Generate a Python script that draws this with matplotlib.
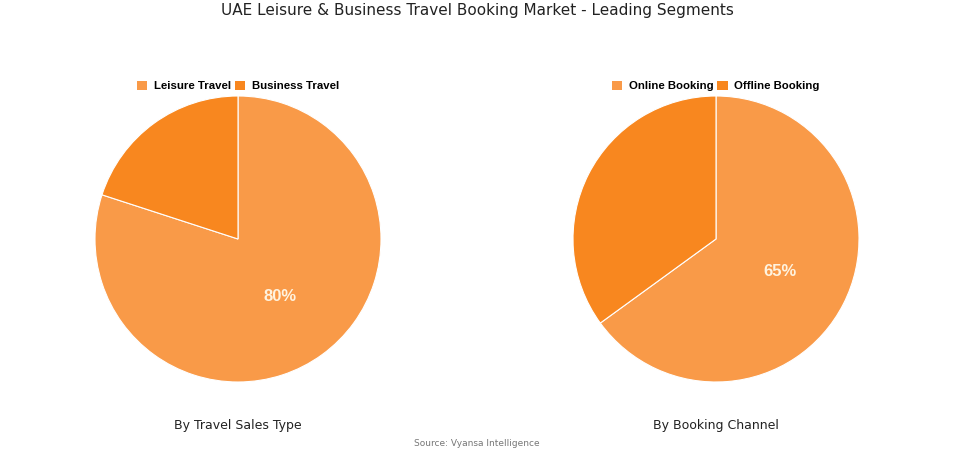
import matplotlib
matplotlib.use('Agg')
import matplotlib.pyplot as plt
from matplotlib.patches import Patch
import numpy as np

W, H = 955, 454

# data
sales_labels = ['Leisure Travel', 'Business Travel']
sales_values = [80, 20]
channel_labels = ['Online Booking', 'Offline Booking']
channel_values = [65, 35]

C_LIGHT = '#F99A48'
C_DARK = '#F8871F'

fig = plt.figure(figsize=(W / 100, H / 100), dpi=100)
fig.patch.set_facecolor('white')

fig.text(0.5, 1 - 11 / H, 'UAE Leisure & Business Travel Booking Market - Leading Segments',
         ha='center', va='center', fontsize=11, color='#222222', family='DejaVu Sans')


def draw_pie(cx, labels, values, subtitle):
    r = 143
    cy = 239
    ax = fig.add_axes([(cx - r) / W, (H - cy - r) / H, 2 * r / W, 2 * r / H])
    wedges, _ = ax.pie(values, colors=[C_LIGHT, C_DARK], startangle=90, counterclock=False,
                       wedgeprops=dict(edgecolor='white', linewidth=0.8))
    # label only the largest slice
    w = wedges[0]
    ang = np.deg2rad((w.theta1 + w.theta2) / 2)
    ax.text(0.5 * np.cos(ang), 0.5 * np.sin(ang), f'{values[0]}%', ha='center', va='center',
            fontsize=12, fontweight='bold', color='#FFF3DF', family='Liberation Sans')
    ax.set_aspect('equal')
    ax.set_xlim(-1, 1)
    ax.set_ylim(-1, 1)
    handles = [Patch(facecolor=C_LIGHT), Patch(facecolor=C_DARK)]
    fig.legend(handles, labels, loc='center', bbox_to_anchor=(cx / W, 1 - 86 / H), ncol=2,
               frameon=False, handlelength=0.9, handleheight=0.9, handletextpad=0.6,
               columnspacing=0.3, prop=dict(family='Liberation Sans', weight='bold', size=8.2))
    fig.text(cx / W, 1 - 425 / H, subtitle, ha='center', va='center', fontsize=9,
             color='#222222', family='DejaVu Sans')


draw_pie(238, sales_labels, sales_values, 'By Travel Sales Type')
draw_pie(716, channel_labels, channel_values, 'By Booking Channel')

fig.text(477 / W, 1 - 444 / H, 'Source: Vyansa Intelligence', ha='center', va='center',
         fontsize=6.5, color='#777777', family='DejaVu Sans')

plt.savefig('out.png', dpi=100)
